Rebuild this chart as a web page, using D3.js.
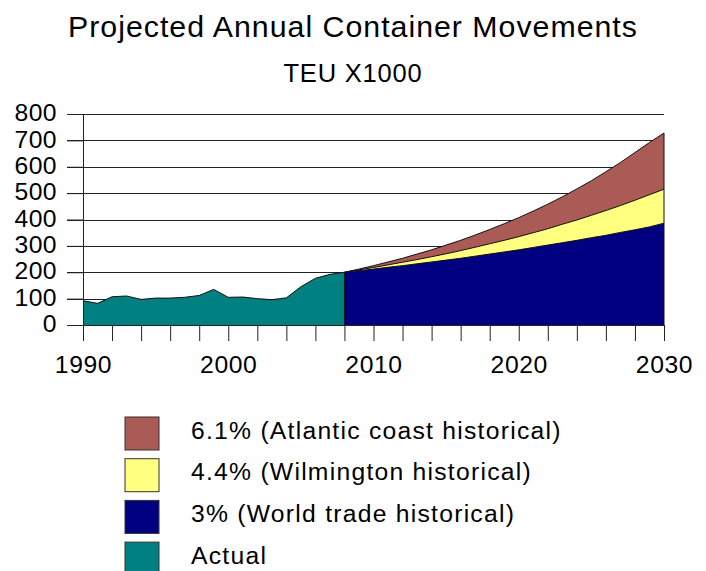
<!DOCTYPE html>
<html>
<head>
<meta charset="utf-8">
<script src="https://cdn.jsdelivr.net/npm/d3@7"></script>
<style>
  body { margin: 0; background: #fff; }
  text { font-family: 'Liberation Sans', Arial, sans-serif; }
</style>
</head>
<body>
<svg id="main"></svg>
<script>
// actual movements, TEU x1000
const actualYears = d3.range(1990, 2009);
const actual = [92, 82, 107, 110, 97, 102, 102, 105, 112, 135, 105, 106, 100, 96, 103, 145, 177, 192, 200];

// projections 2008-2030
const projYears = d3.range(2008, 2031);
const world = [200, 206, 212, 219, 225, 232, 239, 246, 253, 261, 269, 277, 285, 294, 303, 312, 321, 331, 340, 351, 361, 372, 386];
const wilmington = [200, 209, 218, 228, 238, 248, 259, 270, 282, 295, 308, 321, 335, 350, 365, 382, 398, 416, 434, 453, 473, 494, 515];
const atlantic = [200, 212, 225, 239, 253, 269, 285, 303, 321, 341, 362, 384, 407, 432, 458, 486, 516, 547, 581, 616, 654, 692, 728];

const yTicks = [0, 100, 200, 300, 400, 500, 600, 700, 800];
const xLabels = [1990, 2000, 2010, 2020, 2030];

const legendItems = [
  { label: '6.1% (Atlantic coast historical)', color: '#ab5b55' },
  { label: '4.4% (Wilmington historical)', color: '#ffff80' },
  { label: '3% (World trade historical)', color: '#000080' },
  { label: 'Actual', color: '#008080' }
];

let width = 706,
  height = 571;

const svg = d3.select('#main')
  .attr('width', width)
  .attr('height', height);

const x = d3.scaleLinear()
  .domain([1990, 2030])
  .range([83, 664]);

const y = d3.scaleLinear()
  .domain([0, 800])
  .range([325, 114]);

// titles
svg.append('text')
  .text('Projected Annual Container Movements')
  .attr('x', 353)
  .attr('y', 36.7)
  .attr('text-anchor', 'middle')
  .attr('font-size', '30.3px')
  .attr('letter-spacing', '1px');

svg.append('text')
  .text('TEU X1000')
  .attr('x', 353)
  .attr('y', 81.7)
  .attr('text-anchor', 'middle')
  .attr('font-size', '25.5px')
  .attr('letter-spacing', '0.8px');

// gridlines
svg.selectAll('.grid')
  .data(yTicks.slice(1))
  .enter()
  .append('line')
  .attr('class', 'grid')
  .attr('x1', 67)
  .attr('x2', x(2030))
  .attr('y1', d => Math.round(y(d)) + 0.5)
  .attr('y2', d => Math.round(y(d)) + 0.5)
  .attr('stroke', '#222')
  .attr('stroke-width', 1);

const area = (xs, vals) => d3.area()
  .x((d, i) => x(xs[i]))
  .y0(y(0))
  .y1(d => y(d))(vals);

const line = (xs, vals) => d3.line()
  .x((d, i) => x(xs[i]))
  .y(d => y(d))(vals);

// projections, drawn back to front
[[atlantic, legendItems[0].color], [wilmington, legendItems[1].color], [world, legendItems[2].color]]
  .forEach(([vals, col]) => {
    svg.append('path')
      .attr('d', area(projYears, vals))
      .attr('fill', col)
      .attr('stroke', 'none');
    svg.append('path')
      .attr('d', line(projYears, vals))
      .attr('fill', 'none')
      .attr('stroke', '#111')
      .attr('stroke-width', 1);
  });

// right edge
svg.append('line')
  .attr('x1', x(2030)).attr('x2', x(2030))
  .attr('y1', y(0)).attr('y2', y(atlantic[atlantic.length - 1]))
  .attr('stroke', '#111');

// actual
svg.append('path')
  .attr('d', area(actualYears, actual))
  .attr('fill', legendItems[3].color)
  .attr('stroke', 'none');
svg.append('path')
  .attr('d', line(actualYears, actual))
  .attr('fill', 'none')
  .attr('stroke', '#111');
svg.append('line')
  .attr('x1', x(2008)).attr('x2', x(2008))
  .attr('y1', y(0)).attr('y2', y(actual[actual.length - 1]))
  .attr('stroke', '#111');

// y axis
svg.append('g')
  .attr('transform', `translate(${x(1990)}, 0)`)
  .call(d3.axisLeft(y).tickValues(yTicks).tickSize(16).tickPadding(10))
  .call(g => g.selectAll('text')
    .attr('font-size', '24.7px')
    .attr('dy', '0.27em')
    .attr('letter-spacing', '0.4px')
    .attr('font-family', "'Liberation Sans', Arial, sans-serif")
    .attr('fill', '#000'))
  .call(g => g.selectAll('line, path').attr('stroke', '#222'));

// x axis
svg.append('g')
  .attr('transform', `translate(0, ${y(0)})`)
  .call(d3.axisBottom(x).tickValues(d3.range(1990, 2031, 2)).tickSize(16).tickSizeOuter(0)
    .tickFormat(d => xLabels.includes(d) ? d : '').tickPadding(14))
  .call(g => g.selectAll('text')
    .attr('font-size', '24.7px')
    .attr('letter-spacing', '0.6px')
    .attr('font-family', "'Liberation Sans', Arial, sans-serif")
    .attr('fill', '#000'))
  .call(g => g.selectAll('line, path').attr('stroke', '#222'));

// legend
const legend = svg.selectAll('.legend')
  .data(legendItems)
  .enter()
  .append('g')
  .attr('class', 'legend')
  .attr('transform', (d, i) => `translate(125, ${417 + i * 41.7})`);

legend.append('rect')
  .attr('width', 34)
  .attr('height', 33)
  .attr('fill', d => d.color)
  .attr('stroke', '#333')
  .attr('stroke-width', 1);

legend.append('text')
  .text(d => d.label)
  .attr('x', 66)
  .attr('y', 21.5)
  .attr('font-size', '24.7px')
  .attr('letter-spacing', '1.25px');
</script>
</body>
</html>
